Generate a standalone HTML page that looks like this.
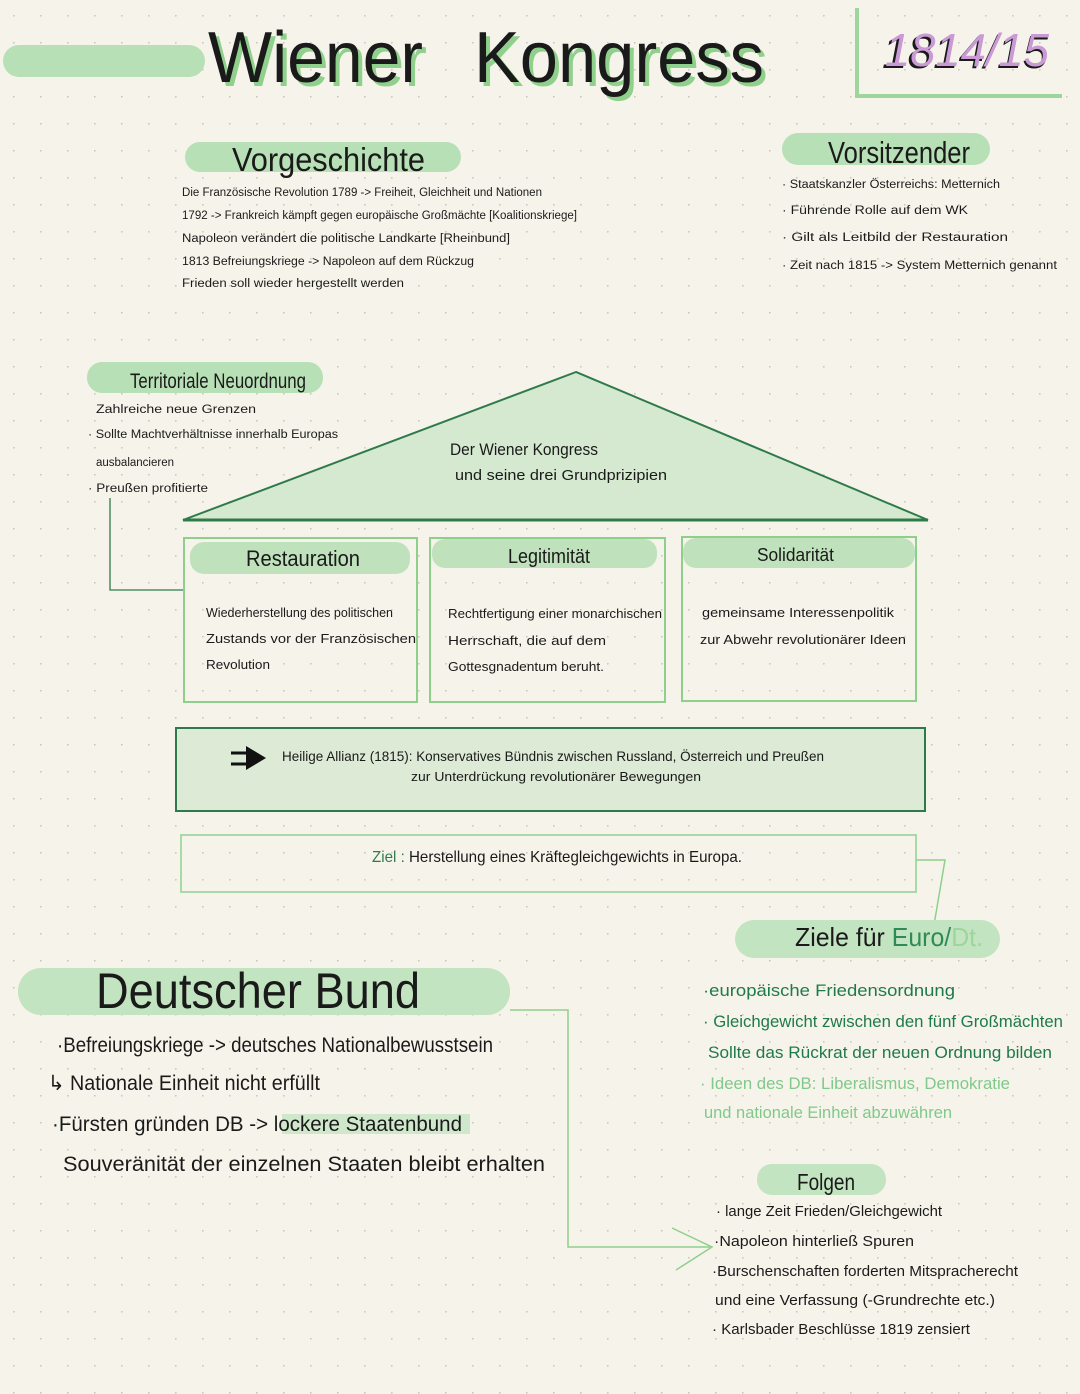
<!DOCTYPE html>
<html><head><meta charset="utf-8"><style>
html,body{margin:0;padding:0;background:#f6f4ea;}
svg{display:block;}
text{font-family:"Liberation Sans",sans-serif;fill:#1a1a1a;}
</style></head><body>
<svg width="1080" height="1394" viewBox="0 0 1080 1394" xmlns="http://www.w3.org/2000/svg">
<defs>
<pattern id="dots" x="13" y="15" width="27" height="27" patternUnits="userSpaceOnUse">
<circle cx="0.8" cy="0.8" r="0.9" fill="#c9c7bf"/>
</pattern>
</defs>
<rect width="1080" height="1394" fill="#f6f4ea"/>
<rect width="1080" height="1394" fill="url(#dots)"/>

<!-- Title -->
<rect x="3" y="45" width="202" height="32" rx="16" fill="#b8e0b6"/>
<text x="212" y="86" font-size="72" textLength="215" lengthAdjust="spacingAndGlyphs" style="fill:#8fd08c">Wiener</text>
<text x="208" y="82" font-size="72" textLength="215" lengthAdjust="spacingAndGlyphs">Wiener</text>
<text x="478" y="86" font-size="72" textLength="290" lengthAdjust="spacingAndGlyphs" style="fill:#8fd08c">Kongress</text>
<text x="474" y="82" font-size="72" textLength="290" lengthAdjust="spacingAndGlyphs">Kongress</text>
<path d="M857 8 V96 H1062" fill="none" stroke="#9ed59c" stroke-width="4"/>
<text x="882" y="68" font-size="46" textLength="166" lengthAdjust="spacingAndGlyphs" font-style="italic" style="fill:#1a1a1a">1814/15</text>
<text x="885" y="66" font-size="46" textLength="164" lengthAdjust="spacingAndGlyphs" font-style="italic" style="fill:#c99ad6">1814/15</text>

<!-- Vorgeschichte -->
<rect x="185" y="142" width="276" height="30" rx="15" fill="#b8e0b6"/>
<text x="232" y="171" font-size="33" textLength="193" lengthAdjust="spacingAndGlyphs">Vorgeschichte</text>
<g font-size="11.5">
<text x="182" y="196" textLength="360" lengthAdjust="spacingAndGlyphs">Die Französische Revolution 1789 -&gt; Freiheit, Gleichheit und Nationen</text>
<text x="182" y="219" textLength="395" lengthAdjust="spacingAndGlyphs">1792 -&gt; Frankreich kämpft gegen europäische Großmächte [Koalitionskriege]</text>
<text x="182" y="242" textLength="328" lengthAdjust="spacingAndGlyphs">Napoleon verändert die politische Landkarte [Rheinbund]</text>
<text x="182" y="265" textLength="292" lengthAdjust="spacingAndGlyphs">1813 Befreiungskriege -&gt; Napoleon auf dem Rückzug</text>
<text x="182" y="287" textLength="222" lengthAdjust="spacingAndGlyphs">Frieden soll wieder hergestellt werden</text>
</g>

<!-- Vorsitzender -->
<rect x="782" y="133" width="208" height="32" rx="16" fill="#b8e0b6"/>
<text x="828" y="163" font-size="31" textLength="142" lengthAdjust="spacingAndGlyphs">Vorsitzender</text>
<g font-size="11.5">
<text x="782" y="188" textLength="218" lengthAdjust="spacingAndGlyphs">·  Staatskanzler Österreichs: Metternich</text>
<text x="782" y="214" textLength="186" lengthAdjust="spacingAndGlyphs">·  Führende Rolle auf dem WK</text>
<text x="782" y="241" textLength="226" lengthAdjust="spacingAndGlyphs">·  Gilt als Leitbild der Restauration</text>
<text x="782" y="269" textLength="275" lengthAdjust="spacingAndGlyphs">·  Zeit nach 1815 -&gt; System Metternich genannt</text>
</g>

<!-- Territoriale Neuordnung -->
<rect x="87" y="362" width="236" height="31" rx="15" fill="#b8e0b6"/>
<text x="130" y="388" font-size="21" textLength="176" lengthAdjust="spacingAndGlyphs">Territoriale Neuordnung</text>
<g font-size="11.5">
<text x="96" y="413" textLength="160" lengthAdjust="spacingAndGlyphs">Zahlreiche neue Grenzen</text>
<text x="88" y="438" textLength="250" lengthAdjust="spacingAndGlyphs">· Sollte Machtverhältnisse innerhalb Europas</text>
<text x="96" y="466" textLength="78" lengthAdjust="spacingAndGlyphs">ausbalancieren</text>
<text x="88" y="492" textLength="120" lengthAdjust="spacingAndGlyphs">· Preußen profitierte</text>
</g>
<path d="M110 498 V590 H184" fill="none" stroke="#2f7a4a" stroke-width="1.3"/>

<!-- Roof -->
<polygon points="576,372 183,520 928,520" fill="#d4e9cf" stroke="#2f7a4a" stroke-width="2"/>
<line x1="183" y1="520" x2="928" y2="520" stroke="#2f7a4a" stroke-width="3"/>
<text x="450" y="455" font-size="17" textLength="148" lengthAdjust="spacingAndGlyphs">Der Wiener Kongress</text>
<text x="455" y="480" font-size="15" textLength="212" lengthAdjust="spacingAndGlyphs">und seine drei Grundprizipien</text>

<!-- Pillars -->
<g fill="none" stroke="#8fcf8c" stroke-width="2">
<rect x="184" y="538" width="233" height="164"/>
<rect x="430" y="538" width="235" height="164"/>
<rect x="682" y="537" width="234" height="164"/>
</g>
<rect x="190" y="542" width="220" height="32" rx="14" fill="#bfe2bc"/>
<rect x="432" y="539" width="225" height="29" rx="13" fill="#bfe2bc"/>
<rect x="683" y="538" width="232" height="30" rx="13" fill="#bfe2bc"/>
<text x="246" y="566" font-size="22" textLength="114" lengthAdjust="spacingAndGlyphs">Restauration</text>
<text x="508" y="563" font-size="20" textLength="82" lengthAdjust="spacingAndGlyphs">Legitimität</text>
<text x="757" y="561" font-size="18" textLength="77" lengthAdjust="spacingAndGlyphs">Solidarität</text>
<g font-size="13">
<text x="206" y="617" textLength="187" lengthAdjust="spacingAndGlyphs">Wiederherstellung des politischen</text>
<text x="206" y="643" textLength="210" lengthAdjust="spacingAndGlyphs">Zustands vor der Französischen</text>
<text x="206" y="669" textLength="64" lengthAdjust="spacingAndGlyphs">Revolution</text>
<text x="448" y="618" textLength="214" lengthAdjust="spacingAndGlyphs">Rechtfertigung einer monarchischen</text>
<text x="448" y="645" textLength="158" lengthAdjust="spacingAndGlyphs">Herrschaft, die auf dem</text>
<text x="448" y="671" textLength="156" lengthAdjust="spacingAndGlyphs">Gottesgnadentum beruht.</text>
<text x="702" y="617" textLength="192" lengthAdjust="spacingAndGlyphs">gemeinsame Interessenpolitik</text>
<text x="700" y="644" textLength="206" lengthAdjust="spacingAndGlyphs">zur Abwehr revolutionärer Ideen</text>
</g>

<!-- Heilige Allianz -->
<rect x="176" y="728" width="749" height="83" fill="#dcead6" stroke="#2f7a4a" stroke-width="2"/>
<path d="M231 753 H248 M231 764 H248" stroke="#111" stroke-width="3"/>
<polygon points="246,746 266,758 246,770" fill="#111"/>
<text x="282" y="761" font-size="14" textLength="542" lengthAdjust="spacingAndGlyphs">Heilige Allianz (1815): Konservatives Bündnis zwischen Russland, Österreich und Preußen</text>
<text x="411" y="781" font-size="13" textLength="290" lengthAdjust="spacingAndGlyphs">zur Unterdrückung revolutionärer Bewegungen</text>

<!-- Ziel -->
<rect x="181" y="835" width="735" height="57" fill="none" stroke="#a9d9a6" stroke-width="2"/>
<text x="372" y="862" font-size="16" textLength="370" lengthAdjust="spacingAndGlyphs"><tspan style="fill:#2f7a4a">Ziel :</tspan>  Herstellung eines Kräftegleichgewichts in Europa.</text>
<path d="M916 860 H945 L934 925" fill="none" stroke="#8fcf8c" stroke-width="1.5"/>

<!-- Ziele für Euro/Dt -->
<rect x="735" y="920" width="265" height="38" rx="19" fill="#c3e4c0"/>
<text x="795" y="946" font-size="26" textLength="188" lengthAdjust="spacingAndGlyphs">Ziele für <tspan style="fill:#2f8a57">Euro/</tspan><tspan style="fill:#9ed59c">Dt.</tspan></text>
<g font-size="17">
<text x="703" y="996" textLength="252" lengthAdjust="spacingAndGlyphs" style="fill:#1f7a4a">·europäische Friedensordnung</text>
<text x="703" y="1027" textLength="360" lengthAdjust="spacingAndGlyphs" style="fill:#1f7a4a">· Gleichgewicht zwischen den fünf Großmächten</text>
<text x="708" y="1058" textLength="344" lengthAdjust="spacingAndGlyphs" style="fill:#1f7a4a">Sollte das Rückrat der neuen Ordnung bilden</text>
<text x="700" y="1089" textLength="310" lengthAdjust="spacingAndGlyphs" style="fill:#7fc98a">· Ideen des DB: Liberalismus, Demokratie</text>
<text x="704" y="1118" textLength="248" lengthAdjust="spacingAndGlyphs" style="fill:#7fc98a">und nationale Einheit abzuwähren</text>
</g>

<!-- Deutscher Bund -->
<rect x="18" y="968" width="492" height="47" rx="23" fill="#c3e4c0"/>
<text x="96" y="1008" font-size="50" textLength="324" lengthAdjust="spacingAndGlyphs">Deutscher Bund</text>
<g font-size="21">
<text x="57" y="1052" textLength="436" lengthAdjust="spacingAndGlyphs">·Befreiungskriege -&gt; deutsches Nationalbewusstsein</text>
<text x="48" y="1090" textLength="272" lengthAdjust="spacingAndGlyphs">↳ Nationale Einheit nicht erfüllt</text>
<rect x="282" y="1114" width="188" height="20" fill="#cfe8cb"/>
<text x="52" y="1131" textLength="410" lengthAdjust="spacingAndGlyphs">·Fürsten gründen DB -&gt; lockere Staatenbund</text>
<text x="63" y="1171" textLength="482" lengthAdjust="spacingAndGlyphs">Souveränität der einzelnen Staaten bleibt erhalten</text>
</g>
<path d="M510 1010 H568 V1247 H710" fill="none" stroke="#8fcf8c" stroke-width="1.5"/>
<path d="M672 1228 L712 1247 L676 1270" fill="none" stroke="#8fcf8c" stroke-width="1.5"/>

<!-- Folgen -->
<rect x="757" y="1164" width="129" height="31" rx="15" fill="#c3e4c0"/>
<text x="797" y="1190" font-size="23" textLength="58" lengthAdjust="spacingAndGlyphs">Folgen</text>
<g font-size="15">
<text x="716" y="1216" textLength="226" lengthAdjust="spacingAndGlyphs">· lange Zeit Frieden/Gleichgewicht</text>
<text x="714" y="1246" textLength="200" lengthAdjust="spacingAndGlyphs">·Napoleon hinterließ Spuren</text>
<text x="712" y="1276" textLength="306" lengthAdjust="spacingAndGlyphs">·Burschenschaften forderten Mitspracherecht</text>
<text x="715" y="1305" textLength="280" lengthAdjust="spacingAndGlyphs">und eine Verfassung (-Grundrechte etc.)</text>
<text x="712" y="1334" textLength="258" lengthAdjust="spacingAndGlyphs">· Karlsbader Beschlüsse 1819 zensiert</text>
</g>
</svg>
</body></html>
